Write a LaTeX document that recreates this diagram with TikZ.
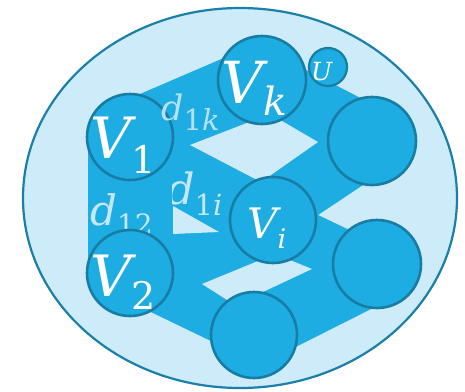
\documentclass[tikz,border=0pt]{standalone}
\usepackage{fontspec}
\setmainfont{DejaVu Serif}
\usetikzlibrary{shapes.geometric}
\definecolor{ellfill}{HTML}{CDEBF8}
\definecolor{ellline}{HTML}{1A80A9}
\definecolor{darkfill}{HTML}{1EADE3}
\definecolor{circline}{HTML}{187DA3}
\definecolor{dlab}{HTML}{C8E7F6}
\newcommand{\sublab}[5]{{\fontsize{#1}{#1}\selectfont #3}{\fontsize{#2}{#2}\selectfont\raisebox{-#5}{#4}}}
\tikzset{
  vnode/.style={circle, draw=circline, line width=2.6pt, fill=darkfill, minimum size=86pt, inner sep=0pt},
  vlab/.style={anchor=base west, inner sep=0pt, text=white},
  dlabel/.style={anchor=base west, inner sep=0pt, text=dlab},
  holefill/.style={fill=ellfill}
}
\begin{document}
\begin{tikzpicture}[x=1pt,y=-1pt]
\useasboundingbox (0,0) rectangle (465,391);
% outer set
\node[ellipse, draw=ellline, line width=2.2pt, fill=ellfill, minimum width=434pt, minimum height=380pt, inner sep=0pt] (uset) at (240,198) {};
% dark band
\fill[darkfill] (88,137) -- (140,94) -- (240,51) -- (300,66.8) -- (380,108) -- (378,175) -- (318,215) -- (385,247) -- (385,302) -- (260,365) -- (240,355) -- (130,302) -- (88,273) -- cycle;
% holes
\fill[holefill] (190,145) -- (270,114) -- (318,142) -- (261,182) -- cycle;
\fill[holefill] (173,206) -- (173,234) -- (219,232) -- cycle;
\fill[holefill] (202,284) -- (275,254) -- (312,269) -- (235,305) -- cycle;
% label behind V2
\node[dlabel] (d12) at (90,225) {\sublab{42pt}{28pt}{\itshape d}{12}{9pt}};
% nodes
\node[vnode] (v1) at (130,137) {};
\node[vnode] (v2) at (130,273) {};
\node[vnode, minimum size=88pt] (vk) at (262,80) {};
\node[vnode] (vi) at (273,220) {};
\node[vnode, minimum size=88pt] (rt) at (372,141) {};
\node[vnode, minimum size=88pt] (rm) at (377,264) {};
\node[vnode] (bt) at (254,335) {};
\node[vnode, minimum size=38pt, line width=2.2pt] (u) at (328,67) {};
% labels
\node[vlab] (lv1) at (90,158) {\sublab{57pt}{38pt}{\itshape V}{1}{15pt}};
\node[vlab] (lv2) at (90,296) {\sublab{57pt}{38pt}{\itshape V}{2}{13pt}};
\node[vlab] (lvk) at (221,103) {\sublab{58pt}{39pt}{\itshape V}{\itshape k}{12pt}};
\node[vlab] (lvi) at (247,238) {\sublab{42pt}{27pt}{\itshape V}{\itshape i}{10pt}};
\node[vlab] (lu) at (311,80) {\fontsize{25pt}{25pt}\selectfont\itshape U};
\node[dlabel, opacity=0.9] (d1k) at (161,120) {\sublab{35pt}{29pt}{\itshape d}{1\itshape k}{10pt}};
\begin{scope}
\clip (172,150) rectangle (240,240);
\node[dlabel] (d1i) at (167,204) {\sublab{43pt}{29pt}{\itshape d}{1\itshape i}{11pt}};
\end{scope}
\end{tikzpicture}
\end{document}
